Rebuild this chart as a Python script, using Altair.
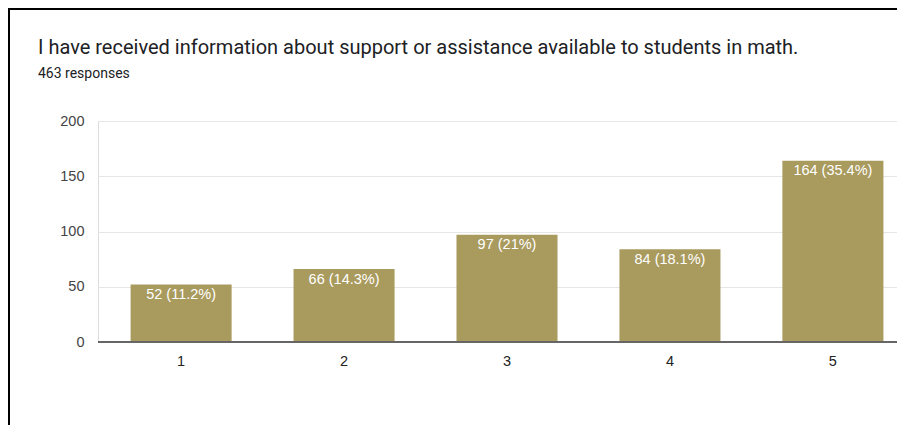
import altair as alt
import pandas as pd

# ---- data ----
categories = ["1", "2", "3", "4", "5"]
counts = [52, 66, 97, 84, 164]
percents = ["11.2%", "14.3%", "21%", "18.1%", "35.4%"]
y_ticks = [0, 25, 50, 75, 100, 125, 150, 175, 200]
title_text = "I have received information about support or assistance available to students in math."
subtitle_text = "463 responses"

df = pd.DataFrame({
    "cat": categories,
    "count": counts,
    "label": [f"{c} ({p})" for c, p in zip(counts, percents)],
})

FONT = "Roboto"
CFONT = "Liberation Sans"
BAR = "#a99a5e"
W, H = 799, 221

x_enc = alt.X(
    "cat:N",
    sort=categories,
    scale=alt.Scale(type="band", range=[0, 818], paddingInner=0.38, paddingOuter=0.2),
    axis=alt.Axis(title=None, labelAngle=0, domain=False, ticks=False, labelPadding=12,
                  labelFontSize=14.5, labelColor="#222222", labelFont=CFONT, grid=False),
)
y_enc = alt.Y(
    "count:Q",
    scale=alt.Scale(domain=[0, 200], nice=False),
    axis=alt.Axis(title=None, values=y_ticks, domain=False, ticks=False, labelPadding=14,
                  labelFontSize=14.5, labelColor="#444444", labelFont=CFONT, labelOverlap=False,
                  labelExpr="datum.value % 50 === 0 ? datum.label : ''",
                  gridColor={"condition": {"test": "datum.value % 50 === 0", "value": "#e6e6e6"},
                             "value": "#f2f2f2"}),
)

base = alt.Chart(df)
bars = base.mark_bar(color=BAR).encode(x=x_enc, y=y_enc)
labels = base.mark_text(color="white", baseline="top", dy=3.5, fontSize=14.5, font=CFONT).encode(
    x=alt.X("cat:N", sort=categories), y="count:Q", text="label:N")
baseline = base.mark_rule(color="#666666", strokeWidth=2).encode(
    y=alt.datum(0), x=alt.value(0), x2=alt.value(W))

one = pd.DataFrame({"t": [title_text], "s": [subtitle_text]})
title = alt.Chart(one).mark_text(align="left", baseline="alphabetic", fontSize=20, font=FONT,
                                  color="#202124").encode(
    x=alt.value(-60), y=alt.value(-67), text="t:N")
subtitle = alt.Chart(one).mark_text(align="left", baseline="alphabetic", fontSize=14, font=FONT,
                                     color="#202124").encode(
    x=alt.value(-60), y=alt.value(-43.5), text="s:N")
frame_top = alt.Chart(one).mark_rule(color="black", strokeWidth=2).encode(
    x=alt.value(-90), x2=alt.value(W), y=alt.value(-112))
frame_left = alt.Chart(one).mark_rule(color="black", strokeWidth=2).encode(
    x=alt.value(-89), y=alt.value(-113), y2=alt.value(H + 83))

chart = alt.layer(bars, labels, baseline, title, subtitle, frame_top, frame_left).properties(
    width=W, height=H,
    autosize=alt.AutoSizeParams(type="none"),
    padding={"left": 90, "top": 113, "right": 0, "bottom": 83},
).configure_view(stroke=None).configure(background="white")

chart.save("out.html", embed_options={"renderer": "svg", "actions": False})
